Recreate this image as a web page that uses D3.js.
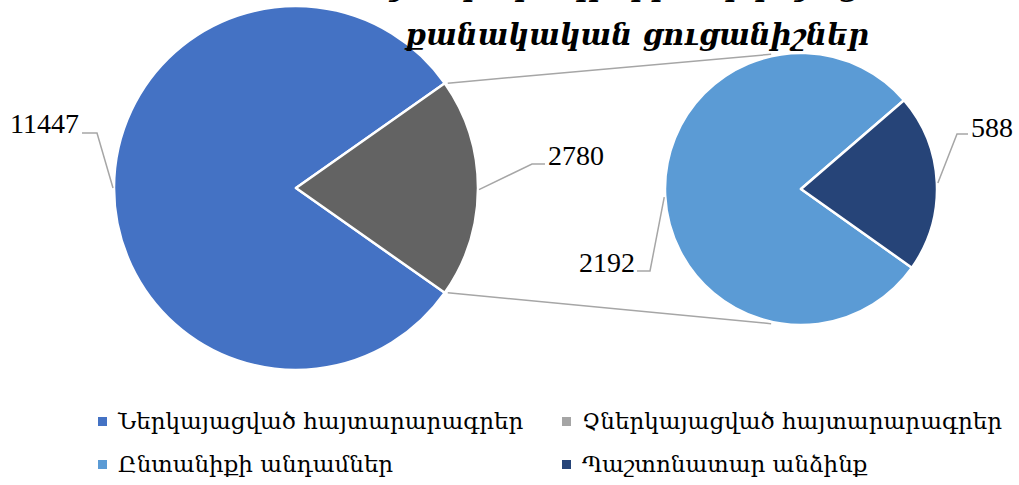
<!DOCTYPE html>
<html>
  <head>
    <script src="https://cdn.jsdelivr.net/npm/d3@7/dist/d3.min.js" charset="utf-8"></script>
    <style type="text/css">
      body { margin: 0; background: #fff; }
      .num { font-family: "Liberation Serif", "DejaVu Serif", serif; font-size: 28px; fill: #000; }
      .leg { font-family: "DejaVu Serif", "Liberation Serif", serif; font-size: 23px; fill: #000; }
      .title { font-family: "DejaVu Serif", serif; font-size: 29px; font-style: italic; font-weight: bold; fill: #000; }
    </style>
  </head>
  <body>
    <script type="text/javascript">
      var w = 1019, h = 485;

      // main pie: submitted vs not submitted declarations
      var mainLabels = ["Ներկայացված հայտարարագրեր", "Չներկայացված հայտարարագրեր"];
      var mainValues = [11447, 2780];
      // second pie: breakdown of the not submitted part
      var subLabels = ["Ընտանիքի անդամներ", "Պաշտոնատար անձինք"];
      var subValues = [2192, 588];
      var titleLines = ["Հայտարարագրերի ներկայացման", "քանակական ցուցանիշներ"];

      var mainColors = ["#4472C4", "#636363"];
      var subColors = ["#5B9BD5", "#264478"];
      var legendColors = ["#4472C4", "#A5A5A5", "#5B9BD5", "#264478"];

      var svg = d3.select("body").append("svg")
          .attr("width", w)
          .attr("height", h);

      var main = { cx: 296, cy: 188, r: 182 },
          sub = { cx: 801, cy: 189, r: 136 };

      // main pie, gray slice centred on 3 o'clock
      var mainTotal = d3.sum(mainValues);
      var grayAng = 2 * Math.PI * mainValues[1] / mainTotal;
      var mainStart = Math.PI / 2 + grayAng / 2;
      var mainPie = d3.pie().sort(null).startAngle(mainStart).endAngle(mainStart + 2 * Math.PI);
      var mainArcs = mainPie(mainValues);

      var subTotal = d3.sum(subValues);
      var darkAng = 2 * Math.PI * subValues[1] / subTotal;
      var subStart = (87.3 * Math.PI / 180) + darkAng / 2;
      var subPie = d3.pie().sort(null).startAngle(subStart).endAngle(subStart + 2 * Math.PI);
      var subArcs = subPie(subValues);

      function pt(c, a, r) { // d3 angle -> screen point
        return [c.cx + r * Math.sin(a), c.cy - r * Math.cos(a)];
      }

      // connector lines between the two pies
      var topA = mainArcs[1].startAngle, botA = mainArcs[1].endAngle;
      var subTopA = -12.5 * Math.PI / 180, subBotA = Math.PI + 12.5 * Math.PI / 180;
      var conns = [[pt(main, topA, main.r), pt(sub, subTopA, sub.r + 2)],
                   [pt(main, botA, main.r), pt(sub, subBotA, sub.r + 2)]];
      svg.selectAll(".conn").data(conns).enter().append("line")
         .attr("class", "conn")
         .attr("x1", function(d) { return d[0][0] + 3; })
         .attr("y1", function(d) { return d[0][1]; })
         .attr("x2", function(d) { return d[1][0]; })
         .attr("y2", function(d) { return d[1][1]; })
         .attr("stroke", "#A6A6A6").attr("stroke-width", 1.5);

      var arcMain = d3.arc().innerRadius(0).outerRadius(main.r);
      svg.append("g").attr("transform", "translate(" + [main.cx, main.cy] + ")")
         .selectAll("path").data(mainArcs).enter().append("path")
         .attr("d", arcMain)
         .attr("fill", function(d, i) { return mainColors[i]; })
         .attr("stroke", "#fff").attr("stroke-width", 2.5).attr("stroke-linejoin", "round");

      var arcSub = d3.arc().innerRadius(0).outerRadius(sub.r);
      svg.append("g").attr("transform", "translate(" + [sub.cx, sub.cy] + ")")
         .selectAll("path").data(subArcs).enter().append("path")
         .attr("d", arcSub)
         .attr("fill", function(d, i) { return subColors[i]; })
         .attr("stroke", "#fff").attr("stroke-width", 2.5).attr("stroke-linejoin", "round");

      // data labels with leader lines
      var labels = [
        { v: mainValues[0], c: main, a: -Math.PI / 2, elbow: [97, 133], end: [82, 133], anchor: "end", tx: 79, ty: 133 },
        { v: mainValues[1], c: main, a: 1.58, elbow: [532, 164], end: [545, 164], anchor: "start", tx: 548, ty: 165 },
        { v: subValues[0], c: sub, a: -1.63, elbow: [650, 271], end: [637, 271], anchor: "end", tx: 635, ty: 272 },
        { v: subValues[1], c: sub, a: 1.527, elbow: [957, 134], end: [968, 134], anchor: "start", tx: 971, ty: 137 }
      ];
      labels.forEach(function(l) {
        var p = pt(l.c, l.a, l.c.r + 1);
        svg.append("polyline")
           .attr("points", [p, l.elbow, l.end].map(function(q) { return q.join(","); }).join(" "))
           .attr("fill", "none").attr("stroke", "#A6A6A6").attr("stroke-width", 1.5);
        svg.append("text").attr("class", "num")
           .attr("x", l.tx).attr("y", l.ty)
           .attr("text-anchor", l.anchor)
           .text(l.v);
      });

      // title (first line mostly clipped by the top edge, as in the original)
      svg.selectAll(".title").data(titleLines).enter().append("text")
         .attr("class", "title")
         .attr("x", 637)
         .attr("y", function(d, i) { return -4 + i * 49; })
         .attr("text-anchor", "middle")
         .text(function(d) { return d; });

      // legend
      var legendLabels = mainLabels.concat(subLabels);
      var legX = [98, 562], legY = [429, 472];
      var leg = svg.selectAll(".legitem").data(legendLabels).enter().append("g")
         .attr("class", "legitem")
         .attr("transform", function(d, i) { return "translate(" + [legX[i % 2], legY[Math.floor(i / 2)]] + ")"; });
      leg.append("rect").attr("x", 0).attr("y", -12).attr("width", 9).attr("height", 9)
         .attr("fill", function(d, i) { return legendColors[i]; });
      leg.append("text").attr("class", "leg").attr("x", 20).attr("y", 0)
         .text(function(d) { return d; });
    </script>
  </body>
</html>
